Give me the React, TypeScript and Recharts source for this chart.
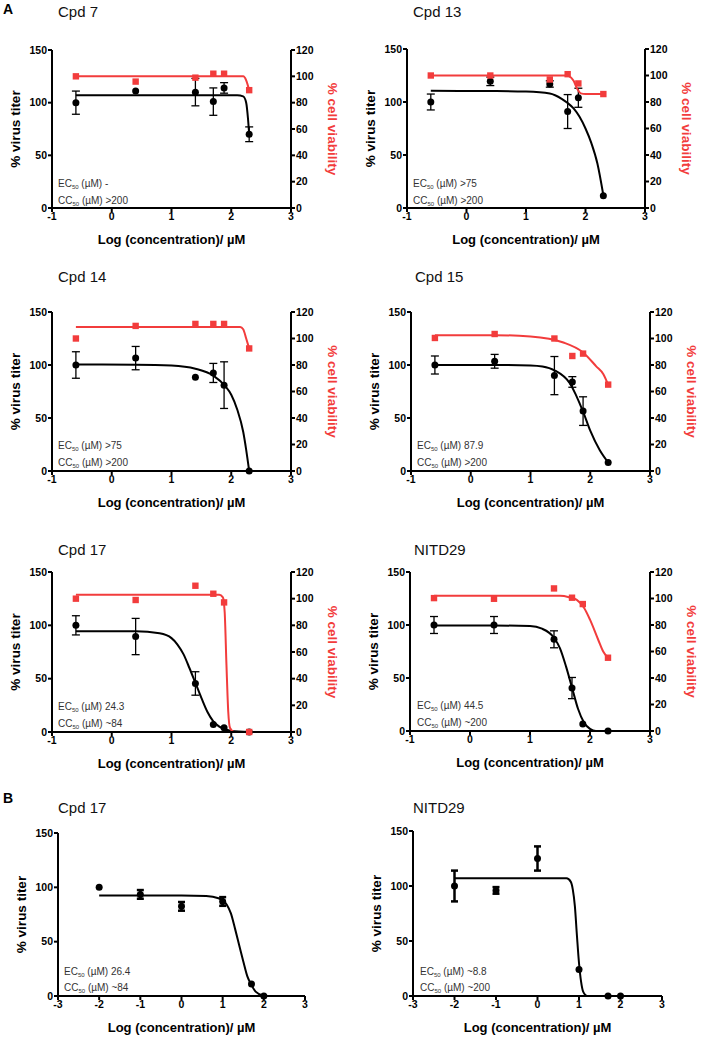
import React from 'react';
import { ComposedChart, XAxis, YAxis, Line, Scatter, ErrorBar } from 'recharts';

const RED = '#f23c3c';
const FONT = '"Liberation Sans", Arial, Helvetica, sans-serif';

// log10 of 0.25, 2.5, 25, 50, 75, 200 µM (panel A) and 0.01 .. 100 µM (panel B)
const logConcA = [-0.6, 0.4, 1.4, 1.7, 1.88, 2.3];
const logConcB = [-2, -1, 0, 1, 1.7, 2];

// Cpd 7
const cpd7Titer = [100, 111, 110, 101, 114, 70];
const cpd7TiterErr = [11, 0, 13, 13, 5, 7];
const cpd7Viab = [100, 96, 99, 102, 102, 89.5];
const cpd7FitX = [-0.6, 2.1, 2.2, 2.25, 2.28, 2.3];
const cpd7FitY = [107, 107, 106, 100, 85, 70];
const cpd7ViabFitX = [-0.6, 2.2, 2.25, 2.3];
const cpd7ViabFitY = [100, 100, 97, 89.5];

// Cpd 13
const cpd13Titer = [100, 119.5, 117, 91, 104, 11.5];
const cpd13TiterErr = [7.5, 4, 3, 16, 9, 0];
const cpd13Viab = [100, 100, 97, 101, 94, 86];
const cpd13FitX = [-0.6, 0.5, 1.0, 1.4, 1.6, 1.7, 1.8, 1.9, 2.0, 2.1, 2.2, 2.3];
const cpd13FitY = [110.5, 110.3, 109.8, 108, 103, 99, 94, 86, 75, 61, 42, 12];
const cpd13ViabFitX = [-0.6, 1.65, 1.72, 1.8, 1.86, 1.92, 2.0, 2.3];
const cpd13ViabFitY = [100, 100, 99.5, 96, 90, 86.5, 86, 86];

// Cpd 14
const cpd14Titer = [100, 106.5, 88.5, 92.5, 81, 0];
const cpd14TiterErr = [12.5, 11, 0, 9, 22, 0];
const cpd14Viab = [100, 109.5, 111, 111, 111, 92.5];
const cpd14FitX = [-0.6, 0.4, 1.0, 1.4, 1.7, 1.9, 2.0, 2.1, 2.2, 2.25, 2.3];
const cpd14FitY = [100.5, 100.3, 99.5, 96.5, 90, 80, 72, 58, 37, 20, 0];
const cpd14ViabFitX = [-0.6, 2.15, 2.2, 2.25, 2.3];
const cpd14ViabFitY = [108.7, 108.7, 107, 100, 92.5];

// Cpd 15
const cpd15Titer = [100, 103.5, 90, 84, 56.5, 8];
const cpd15TiterErr = [8.5, 6.5, 18, 5, 13.5, 0];
const cpd15Viab = [100.4, 103.4, 100, 86.8, 88.6, 65.2];
const cpd15FitX = [-0.6, 0.4, 1.0, 1.2, 1.4, 1.66, 1.88, 2.0, 2.16, 2.3];
const cpd15FitY = [100, 100, 99.5, 98.5, 95, 82.6, 56, 38, 19.5, 8];
const cpd15ViabFitX = [-0.6, 0.4, 1.0, 1.55, 1.88, 2.1, 2.22, 2.3];
const cpd15ViabFitY = [102.5, 102.5, 101.5, 97, 89.5, 79, 73, 65];

// Cpd 17
const cpd17Titer = [100, 89.5, 45.5, 7, 4, 0];
const cpd17TiterErr = [9, 17, 11, 0, 0, 0];
const cpd17Viab = [100, 99, 109.7, 103.7, 97.2, 0];
const cpd17FitX = [-0.6, 0.4, 0.8, 1.0, 1.1, 1.2, 1.3, 1.4, 1.5, 1.6, 1.7, 1.8, 2.0, 2.3];
const cpd17FitY = [94.5, 94.5, 92.5, 88, 82, 73, 60, 46, 32, 19, 10, 5, 1, 0];
const cpd17ViabFitX = [-0.6, 1.8, 1.86, 1.89, 1.92, 1.95, 1.98, 2.05, 2.3];
const cpd17ViabFitY = [103, 103, 101, 90, 50, 15, 3, 0, 0];

// NITD29
const nitdTiter = [100, 100, 86.5, 40.5, 6.5, 0];
const nitdTiterErr = [8, 8, 8, 10, 0, 0];
const nitdViab = [100.3, 99.8, 107.6, 100.6, 95.8, 55.3];
const nitdFitX = [-0.6, 0.4, 1.0, 1.2, 1.4, 1.5, 1.6, 1.7, 1.8, 1.9, 2.0, 2.1, 2.3];
const nitdFitY = [99.5, 99.5, 99, 96.5, 88, 78, 61, 41, 21, 8, 2, 0, 0];
const nitdViabFitX = [-0.6, 1.5, 1.65, 1.78, 1.9, 2.0, 2.14, 2.22, 2.3];
const nitdViabFitY = [102, 102, 101, 99, 93, 84, 68.5, 60, 55.3];

// Panel B: Cpd 17
const bCpd17Titer = [100, 93.5, 82.5, 87, 11, 0];
const bCpd17TiterErr = [0, 4, 4, 4, 0, 0];
const bCpd17FitX = [-2, 0, 0.6, 0.9, 1.0, 1.1, 1.2, 1.3, 1.4, 1.5, 1.6, 1.7, 1.8, 2.0];
const bCpd17FitY = [92.5, 92.5, 92, 90, 88, 84, 76, 62, 47, 32, 18, 10, 4, 0];

// Panel B: NITD29
const bNitdTiter = [100, 96, 125, 24, 0, 0];
const bNitdTiterErr = [14, 3, 11, 0, 0, 0];
const bNitdFitX = [-2, 0.7, 0.8, 0.85, 0.9, 0.95, 1.0, 1.05, 1.1, 1.2, 2.0];
const bNitdFitY = [107, 107, 104, 97, 82, 55, 30, 13, 4, 0, 0];

const xTicksA = [-1, 0, 1, 2, 3];
const xTicksB = [-3, -2, -1, 0, 1, 2, 3];
const titerTicks = [0, 50, 100, 150];
const viabTicks = [0, 20, 40, 60, 80, 100, 120];

const pts = (xs: number[], ys: number[], errs?: number[]) =>
  xs.map((x, i) => ({ x, y: ys[i], err: errs ? errs[i] : 0 }));

const tickStyle = { fill: '#000', fontSize: 10.5, fontWeight: 700, fontFamily: FONT };
const axisStroke = { stroke: '#000', strokeWidth: 2 };

type PanelProps = {
  L: number; T: number; R: number; B: number;
  xMin: number; xTicks: number[];
  titer: any[]; titerFit: any[];
  viab?: any[]; viabFit?: any[];
  thick?: boolean;
};

function Panel({ L, T, R, B, xMin, xTicks, titer, titerFit, viab, viabFit, thick }: PanelProps) {
  const hasRight = !!viab;
  const wl = 45;
  const wr = 50;
  const w = wl + (R - L) + (hasRight ? wr : 12);
  const h = 10 + (B - T) + 40;
  return (
    <div style={{ position: 'absolute', left: L - wl, top: T - 10 }}>
      <ComposedChart
        width={w}
        height={h}
        margin={{ top: 10, right: hasRight ? 0 : 12, bottom: 0, left: 0 }}
      >
        <XAxis
          type="number"
          dataKey="x"
          domain={[xMin, 3]}
          ticks={xTicks}
          interval={0}
          height={40}
          axisLine={axisStroke}
          tickLine={axisStroke}
          tickSize={4}
          tickMargin={1}
          tick={tickStyle}
          label={{
            value: 'Log (concentration)/ µM',
            position: 'insideBottom',
            offset: 4,
            fill: '#000',
            fontSize: 13,
            fontWeight: 700,
            fontFamily: FONT,
          }}
        />
        <YAxis
          yAxisId="left"
          type="number"
          domain={[0, 150]}
          ticks={titerTicks}
          interval={0}
          width={wl}
          axisLine={axisStroke}
          tickLine={axisStroke}
          tickSize={4}
          tickMargin={1}
          tick={tickStyle}
          label={{
            value: '% virus titer',
            angle: -90,
            position: 'insideLeft',
            offset: 8,
            fill: '#000',
            fontSize: 13.5,
            fontWeight: 700,
            fontFamily: FONT,
            style: { textAnchor: 'middle' },
          }}
        />
        {hasRight && (
          <YAxis
            yAxisId="right"
            orientation="right"
            type="number"
            domain={[0, 120]}
            ticks={viabTicks}
            interval={0}
            width={wr}
            axisLine={axisStroke}
            tickLine={axisStroke}
            tickSize={4}
            tickMargin={1}
            tick={tickStyle}
            label={{
              value: '% cell viability',
              angle: 90,
              position: 'insideRight',
              offset: 8,
              fill: RED,
              fontSize: 13.5,
              fontWeight: 700,
              fontFamily: FONT,
              style: { textAnchor: 'middle' },
            }}
          />
        )}
        <Line
          yAxisId="left"
          data={titerFit}
          dataKey="y"
          type="monotone"
          stroke="#000"
          strokeWidth={2}
          dot={false}
          isAnimationActive={false}
        />
        <Scatter
          yAxisId="left"
          data={titer}
          dataKey="y"
          isAnimationActive={false}
          shape={(p: any) => <circle cx={p.cx} cy={p.cy} r={3.5} fill="#000" />}
        >
          <ErrorBar
            dataKey="err"
            direction="y"
            width={thick ? 3.5 : 4}
            stroke="#000"
            strokeWidth={thick ? 2.5 : 1.3}
            isAnimationActive={false}
          />
        </Scatter>
        {hasRight && (
          <Line
            yAxisId="right"
            data={viabFit}
            dataKey="y"
            type="monotone"
            stroke={RED}
            strokeWidth={2}
            dot={false}
            isAnimationActive={false}
          />
        )}
        {hasRight && (
          <Scatter
            yAxisId="right"
            data={viab}
            dataKey="y"
            isAnimationActive={false}
            shape={(p: any) => <rect x={p.cx - 3.2} y={p.cy - 3.2} width={6.4} height={6.4} fill={RED} />}
          />
        )}
      </ComposedChart>
    </div>
  );
}

function Note({ x, y, lh, ec, cc }: { x: number; y: number; lh: number; ec: string; cc: string }) {
  const sub = { fontSize: '0.6em', verticalAlign: 'baseline', position: 'relative' as const, top: 2 };
  return (
    <div
      style={{
        position: 'absolute',
        left: x,
        top: y - lh / 2,
        fontSize: 10,
        lineHeight: `${lh}px`,
        color: '#333',
        fontFamily: FONT,
        whiteSpace: 'nowrap',
      }}
    >
      <div>EC<span style={sub}>50</span> (µM) {ec}</div>
      <div>CC<span style={sub}>50</span> (µM) {cc}</div>
    </div>
  );
}

function Title({ x, y, text }: { x: number; y: number; text: string }) {
  return (
    <div style={{ position: 'absolute', left: x, top: y, fontSize: 15, lineHeight: '18px', fontFamily: FONT, color: '#111' }}>
      {text}
    </div>
  );
}

export default function App() {
  return (
    <div style={{ position: 'absolute', left: 0, top: 0, width: 701, height: 1039, background: '#fff', fontFamily: FONT }}>
      <div style={{ position: 'absolute', left: 3, top: 1, fontSize: 14, fontWeight: 700, lineHeight: '16px' }}>A</div>
      <div style={{ position: 'absolute', left: 3, top: 790, fontSize: 14, fontWeight: 700, lineHeight: '16px' }}>B</div>

      <Title x={58} y={3} text="Cpd 7" />
      <Panel L={52} T={50} R={291} B={208} xMin={-1} xTicks={xTicksA}
        titer={pts(logConcA, cpd7Titer, cpd7TiterErr)} titerFit={pts(cpd7FitX, cpd7FitY)}
        viab={pts(logConcA, cpd7Viab)} viabFit={pts(cpd7ViabFitX, cpd7ViabFitY)} />
      <Note x={58} y={183} lh={15} ec="-" cc=">200" />

      <Title x={413} y={3} text="Cpd 13" />
      <Panel L={407} T={49} R={645} B={208} xMin={-1} xTicks={xTicksA}
        titer={pts(logConcA, cpd13Titer, cpd13TiterErr)} titerFit={pts(cpd13FitX, cpd13FitY)}
        viab={pts(logConcA, cpd13Viab)} viabFit={pts(cpd13ViabFitX, cpd13ViabFitY)} />
      <Note x={413} y={183} lh={15} ec=">75" cc=">200" />

      <Title x={58} y={268} text="Cpd 14" />
      <Panel L={52} T={312} R={291} B={471} xMin={-1} xTicks={xTicksA}
        titer={pts(logConcA, cpd14Titer, cpd14TiterErr)} titerFit={pts(cpd14FitX, cpd14FitY)}
        viab={pts(logConcA, cpd14Viab)} viabFit={pts(cpd14ViabFitX, cpd14ViabFitY)} />
      <Note x={58} y={445} lh={15} ec=">75" cc=">200" />

      <Title x={415} y={268} text="Cpd 15" />
      <Panel L={411} T={312} R={650} B={471} xMin={-1} xTicks={xTicksA}
        titer={pts(logConcA, cpd15Titer, cpd15TiterErr)} titerFit={pts(cpd15FitX, cpd15FitY)}
        viab={pts(logConcA, cpd15Viab)} viabFit={pts(cpd15ViabFitX, cpd15ViabFitY)} />
      <Note x={417} y={445} lh={15} ec="87.9" cc=">200" />

      <Title x={58} y={541} text="Cpd 17" />
      <Panel L={52} T={572} R={291} B={732} xMin={-1} xTicks={xTicksA}
        titer={pts(logConcA, cpd17Titer, cpd17TiterErr)} titerFit={pts(cpd17FitX, cpd17FitY)}
        viab={pts(logConcA, cpd17Viab)} viabFit={pts(cpd17ViabFitX, cpd17ViabFitY)} />
      <Note x={58} y={706} lh={15} ec="24.3" cc="~84" />

      <Title x={414} y={541} text="NITD29" />
      <Panel L={410} T={572} R={650} B={731} xMin={-1} xTicks={xTicksA}
        titer={pts(logConcA, nitdTiter, nitdTiterErr)} titerFit={pts(nitdFitX, nitdFitY)}
        viab={pts(logConcA, nitdViab)} viabFit={pts(nitdViabFitX, nitdViabFitY)} />
      <Note x={417} y={705} lh={15} ec="44.5" cc="~200" />

      <Title x={58} y={799} text="Cpd 17" />
      <Panel L={58} T={833} R={305} B={996} xMin={-3} xTicks={xTicksB} thick
        titer={pts(logConcB, bCpd17Titer, bCpd17TiterErr)} titerFit={pts(bCpd17FitX, bCpd17FitY)} />
      <Note x={64} y={972} lh={13.5} ec="26.4" cc="~84" />

      <Title x={413} y={799} text="NITD29" />
      <Panel L={413} T={831} R={662} B={996} xMin={-3} xTicks={xTicksB} thick
        titer={pts(logConcB, bNitdTiter, bNitdTiterErr)} titerFit={pts(bNitdFitX, bNitdFitY)} />
      <Note x={420} y={972} lh={13.5} ec="~8.8" cc="~200" />
    </div>
  );
}
